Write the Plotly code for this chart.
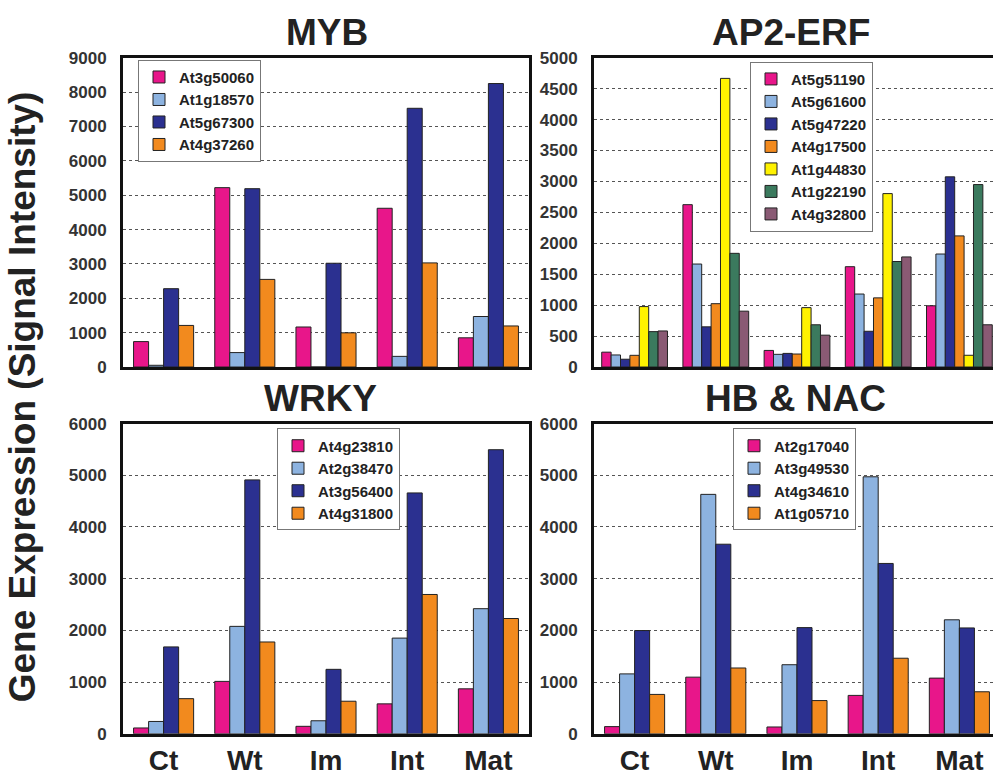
import plotly.graph_objects as go

W, H = 993, 776
stages = ["Ct", "Wt", "Im", "Int", "Mat"]

# ---------------- data ----------------
myb_genes = ["At3g50060", "At1g18570", "At5g67300", "At4g37260"]
myb_At3g50060 = [740, 5220, 1165, 4620, 850]
myb_At1g18570 = [50, 420, 0, 310, 1470]
myb_At5g67300 = [2280, 5190, 3020, 7530, 8250]
myb_At4g37260 = [1210, 2550, 995, 3030, 1195]

ap2_genes = ["At5g51190", "At5g61600", "At5g47220", "At4g17500",
             "At1g44830", "At1g22190", "At4g32800"]
ap2_At5g51190 = [240, 2625, 268, 1622, 990]
ap2_At5g61600 = [195, 1665, 205, 1180, 1827]
ap2_At5g47220 = [126, 650, 220, 578, 3075]
ap2_At4g17500 = [189, 1024, 210, 1118, 2120]
ap2_At1g44830 = [977, 4667, 960, 2804, 190]
ap2_At1g22190 = [572, 1838, 683, 1706, 2950]
ap2_At4g32800 = [583, 903, 515, 1780, 683]

wrky_genes = ["At4g23810", "At2g38470", "At3g56400", "At4g31800"]
wrky_At4g23810 = [113, 1014, 145, 579, 870]
wrky_At2g38470 = [239, 2078, 252, 1851, 2420]
wrky_At3g56400 = [1681, 4911, 1247, 4659, 5495]
wrky_At4g31800 = [680, 1776, 630, 2695, 2230]

hb_genes = ["At2g17040", "At3g49530", "At4g34610", "At1g05710"]
hb_At2g17040 = [139, 1096, 132, 743, 1077]
hb_At3g49530 = [1159, 4631, 1336, 4971, 2205]
hb_At4g34610 = [1997, 3667, 2054, 3295, 2048]
hb_At1g05710 = [762, 1273, 643, 1462, 813]

# ---------------- style ----------------
PINK = "#E8168A"
LBLUE = "#8DB3E0"
NAVY = "#2B3090"
ORANGE = "#F28A1E"
YELLOW = "#FFF200"
GREEN = "#3B7A5E"
MAUVE = "#8A5A74"

FONT = "Liberation Sans, Arial, sans-serif"

panels = [
    dict(name="MYB", genes=myb_genes,
         values=[myb_At3g50060, myb_At1g18570, myb_At5g67300, myb_At4g37260],
         colors=[PINK, LBLUE, NAVY, ORANGE], ymax=9000, dtick=1000,
         xdom=(123, 529), ydom=(50, 367), xmax=4.5, right=True, xlabels=False,
         legend=dict(x=138, y=52), title=(327, 24), gw=0.74),
    dict(name="AP2-ERF", genes=ap2_genes,
         values=[ap2_At5g51190, ap2_At5g61600, ap2_At5g47220, ap2_At4g17500,
                 ap2_At1g44830, ap2_At1g22190, ap2_At4g32800],
         colors=[PINK, LBLUE, NAVY, ORANGE, YELLOW, GREEN, MAUVE], ymax=5000, dtick=500,
         xdom=(594, 993), ydom=(50, 367), xmax=4.414, right=False, xlabels=False,
         legend=dict(x=750, y=54), title=(791, 24), gw=0.81),
    dict(name="WRKY", genes=wrky_genes,
         values=[wrky_At4g23810, wrky_At2g38470, wrky_At3g56400, wrky_At4g31800],
         colors=[PINK, LBLUE, NAVY, ORANGE], ymax=6000, dtick=1000,
         xdom=(123, 529), ydom=(425, 743), xmax=4.5, right=True, xlabels=True,
         legend=dict(x=277, y=430), title=(320, 399), gw=0.74),
    dict(name="HB & NAC", genes=hb_genes,
         values=[hb_At2g17040, hb_At3g49530, hb_At4g34610, hb_At1g05710],
         colors=[PINK, LBLUE, NAVY, ORANGE], ymax=6000, dtick=1000,
         xdom=(594, 993), ydom=(425, 743), xmax=4.414, right=False, xlabels=True,
         legend=dict(x=733, y=430), title=(795, 399), gw=0.74),
]

fig = go.Figure()
layout = dict(
    width=W, height=H, margin=dict(l=0, r=0, t=0, b=0),
    paper_bgcolor="white", plot_bgcolor="white",
    barmode="overlay", showlegend=True,
    font=dict(family=FONT, color="#222"),
)
annotations = []

for k, p in enumerate(panels):
    sfx = "" if k == 0 else str(k + 1)
    xa, ya = "x" + sfx, "y" + sfx
    leg = "legend" + sfx
    n = len(p["genes"])
    bw = p["gw"] / n
    for i, (g, v, c) in enumerate(zip(p["genes"], p["values"], p["colors"])):
        fig.add_trace(go.Bar(
            x=stages, y=v, name=g, xaxis=xa, yaxis=ya, legend=leg,
            legendgroup=f"{k}-{g}",
            width=bw, offset=-p["gw"] / 2 + i * bw,
            marker=dict(color=c, line=dict(color="#222", width=1)),
        ))
    layout["xaxis" + sfx] = dict(
        domain=[p["xdom"][0] / W, p["xdom"][1] / W], anchor=ya,
        type="category", range=[-0.5, p["xmax"]],
        showline=True, linecolor="#111", linewidth=3, mirror=True,
        showgrid=False, ticks="", showticklabels=p["xlabels"],
        tickfont=dict(family=FONT, size=28, weight="bold", color="#222"),
        ticklabelstandoff=0,
    )
    layout["yaxis" + sfx] = dict(
        domain=[1 - p["ydom"][1] / H, 1 - p["ydom"][0] / H], anchor=xa,
        range=[0, p["ymax"]], dtick=p["dtick"], tick0=0,
        showline=True, linecolor="#111", linewidth=3, mirror=p["right"],
        showgrid=True, gridcolor="#555", griddash="dot", gridwidth=1,
        zeroline=False, ticks="",
        tickfont=dict(family=FONT, size=17, weight="bold", color="#333"),
        ticklabelstandoff=10,
    )
    layout[leg] = dict(
        x=p["legend"]["x"] / W, y=1 - p["legend"]["y"] / H,
        xanchor="left", yanchor="top",
        bgcolor="white", bordercolor="#777", borderwidth=1,
        font=dict(family=FONT, size=15, weight="bold", color="#222"),
        tracegroupgap=6, traceorder="normal",
    )
    annotations.append(dict(
        text=p["name"], x=p["title"][0] / W, y=1 - p["title"][1] / H,
        xref="paper", yref="paper", xanchor="center", yanchor="middle",
        showarrow=False,
        font=dict(family=FONT, size=37, weight="bold", color="#222"),
    ))

annotations.append(dict(
    text="Gene Expression (Signal Intensity)", x=22 / W, y=1 - 398 / H,
    xref="paper", yref="paper", xanchor="center", yanchor="middle",
    showarrow=False, textangle=-90,
    font=dict(family=FONT, size=37, weight="bold", color="#222"),
))
layout["annotations"] = annotations
fig.update_layout(**layout)
fig.write_html(
    "out.html",
    config={"displayModeBar": False},
    post_script="document.body.style.margin='0';document.body.style.overflow='hidden';",
)
